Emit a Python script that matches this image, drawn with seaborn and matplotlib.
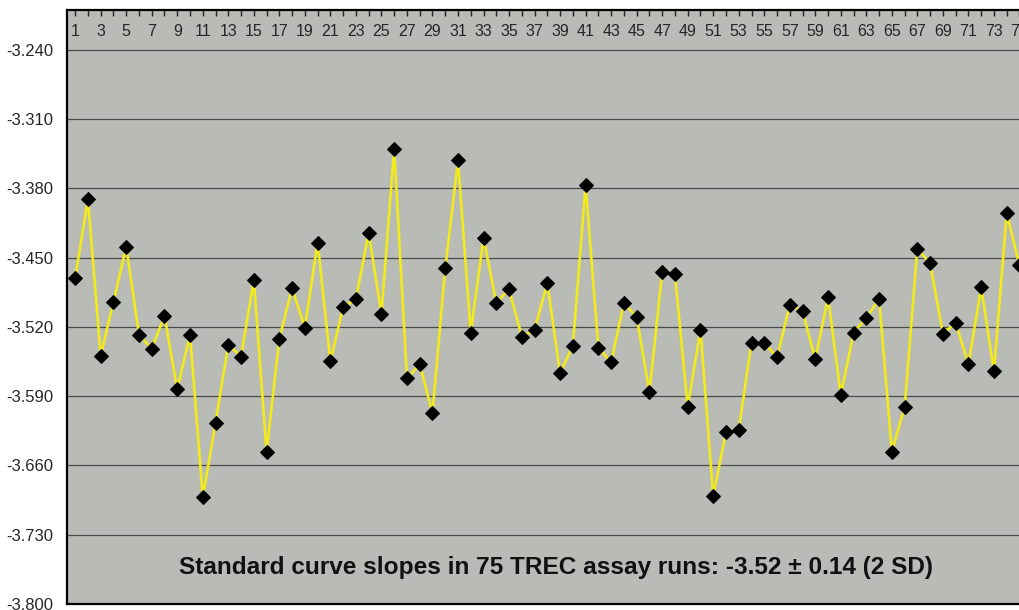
import matplotlib
matplotlib.use("Agg")
import matplotlib.pyplot as plt
import seaborn as sns
import pandas as pd

runs = list(range(1, 76))
slopes = [
    -3.471, -3.391, -3.549, -3.495, -3.439, -3.528, -3.542, -3.509, -3.583, -3.528,
    -3.692, -3.617, -3.538, -3.550, -3.473, -3.646, -3.532, -3.481, -3.521, -3.435,
    -3.555, -3.500, -3.492, -3.425, -3.507, -3.340, -3.572, -3.558, -3.607, -3.461,
    -3.352, -3.526, -3.430, -3.496, -3.482, -3.530, -3.523, -3.476, -3.567, -3.539,
    -3.377, -3.541, -3.556, -3.496, -3.510, -3.586, -3.465, -3.467, -3.601, -3.523,
    -3.691, -3.626, -3.624, -3.536, -3.536, -3.551, -3.498, -3.504, -3.553, -3.490,
    -3.589, -3.526, -3.511, -3.492, -3.646, -3.601, -3.441, -3.456, -3.527, -3.516,
    -3.558, -3.480, -3.565, -3.405, -3.458,
]
y_ticks = [-3.240, -3.310, -3.380, -3.450, -3.520, -3.590, -3.660, -3.730, -3.800]
x_tick_labels = [str(i) for i in range(1, 76, 2)]
annotation = "Standard curve slopes in 75 TREC assay runs: -3.52 \u00b1 0.14 (2 SD)"

df = pd.DataFrame({"run": runs, "slope": slopes})

sns.set_style("white")
plt.rcParams["font.family"] = ["Liberation Sans", "DejaVu Sans"]

fig = plt.figure(figsize=(10.2, 6.1), dpi=100)
ax = fig.add_axes([67 / 1020, 6 / 610, 1 - 67 / 1020, (604 - 10) / 610])
ax.set_facecolor("#b9bcb6")

for y in y_ticks:
    ax.axhline(y, color="#4a4a4a", lw=0.9, zorder=1)

sns.lineplot(data=df, x="run", y="slope", ax=ax, color="#f2ea1a", lw=1.9,
             marker="D", markersize=7, markerfacecolor="black",
             markeredgecolor="black", zorder=3, clip_on=True)

ax.set_xlim(0.36, 75.04)
ax.set_ylim(-3.80, -3.20)
ax.set_yticks(y_ticks)
ax.set_yticklabels([f"{v:.3f}" for v in y_ticks], fontsize=12)
ax.tick_params(axis="y", direction="out", length=4, width=1, color="black", pad=6)

ax.xaxis.tick_top()
ax.set_xticks(range(1, 76, 2))
ax.set_xticklabels(x_tick_labels, fontsize=11.5)
ax.set_xticks(runs, minor=True)
ax.tick_params(axis="x", which="both", direction="in", length=4, width=1,
               color="#222222", top=True, bottom=False)
ax.tick_params(axis="x", which="major", pad=-21)

ax.set_xlabel("")
ax.set_ylabel("")
for side in ["left", "top", "bottom"]:
    ax.spines[side].set_visible(True)
    ax.spines[side].set_color("black")
    ax.spines[side].set_linewidth(1.6)
ax.spines["right"].set_visible(False)

ax.text(0.513, 0.062, annotation, transform=ax.transAxes, ha="center",
        va="center", fontsize=17.6, fontweight="bold", color="#111111", zorder=4)

fig.savefig("out.png", dpi=100)
